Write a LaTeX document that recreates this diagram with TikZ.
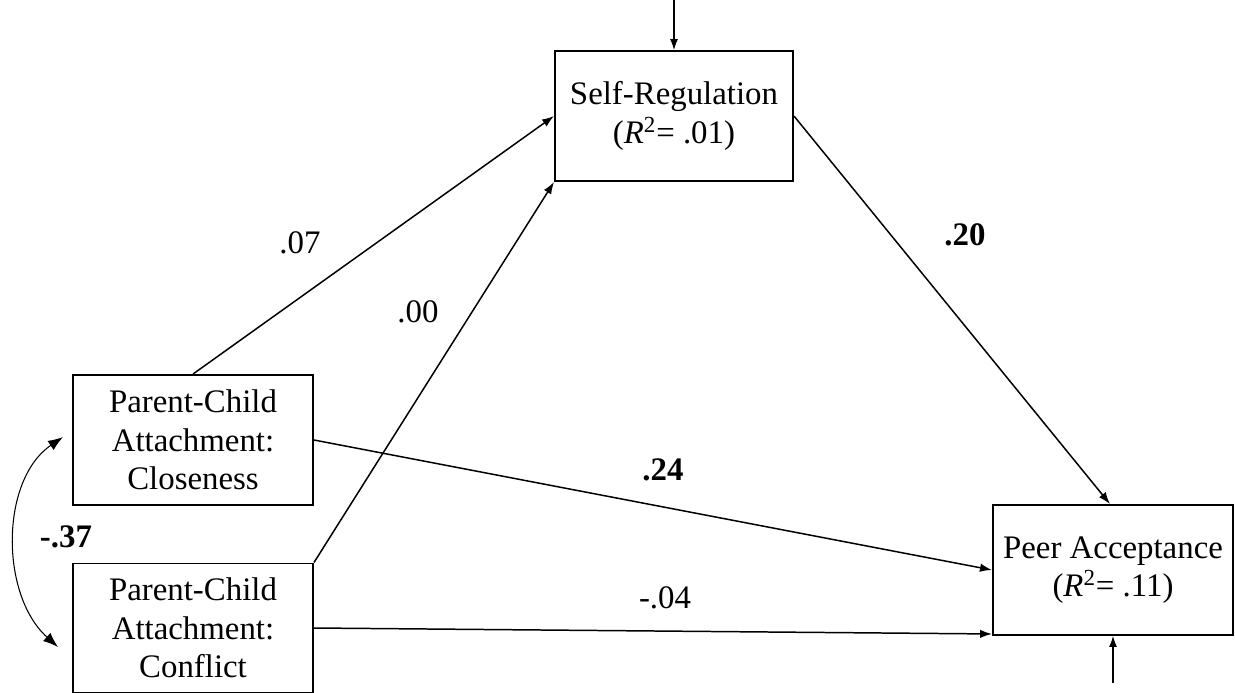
\documentclass[tikz,border=0pt]{standalone}
\usepackage{fontspec}
\setmainfont{Liberation Serif}
\usepackage{tikz}
\usetikzlibrary{arrows.meta}

\tikzset{
  box/.style={draw,line width=1.1pt,align=center,inner sep=0pt,
    font=\fontsize{18.7}{21.8}\selectfont},
  path/.style={line width=0.85pt,-{Latex[length=0.24cm,width=0.17cm]}},
  err/.style={line width=0.6pt,-{Latex[length=0.22cm,width=0.16cm]}},
  coef/.style={font=\fontsize{18.7}{21.8}\selectfont},
  bcoef/.style={font=\fontsize{18.7}{21.8}\selectfont\bfseries}
}

\begin{document}
\begin{tikzpicture}[x=0.02cm,y=-0.02cm]
\useasboundingbox (0,0) rectangle (1235,693);
\node[box,minimum width=238*0.02cm,minimum height=130*0.02cm] (self) at (674,116)
  {Self-Regulation\\(\textit{R}\textsuperscript{2}= .01)};
\node[box,minimum width=240*0.02cm,minimum height=130*0.02cm] (clos) at (193,440)
  {Parent-Child\\Attachment:\\Closeness};
\node[box,minimum width=240*0.02cm,minimum height=129*0.02cm] (conf) at (193,628)
  {Parent-Child\\Attachment:\\Conflict};
\node[box,minimum width=240*0.02cm,minimum height=130*0.02cm] (peer) at (1113,570)
  {Peer Acceptance\\(\textit{R}\textsuperscript{2}= .11)};
\coordinate (e1) at (674,0);
\coordinate (e2) at (1113,683);
\coordinate (c1) at (63,437);
\coordinate (c2) at (58,647);
% paths
\draw[path] (clos.north) -- (self.west);
\draw[path] (conf.north east) -- (self.south west);
\draw[path] (self.east) -- ([xshift=-0.06cm]peer.north);
\draw[path] (clos.east) -- (peer.west);
\draw[path] (conf.east) -- ([yshift=0.04cm]peer.south west);
% residuals
\draw[err] (e1) -- (self.north);
\draw[err] (e2) -- (peer.south);
% covariance
\draw[line width=0.6pt,{Latex[length=0.3cm,width=0.22cm]}-{Latex[length=0.3cm,width=0.22cm]}]
  (c1) .. controls (0,480) and (0,595) .. (c2);
\node[coef] (b07) at (300,243) {.07};
\node[coef] (b00) at (418,312) {.00};
\node[bcoef] (b20) at (965,235) {.20};
\node[bcoef] (b24) at (663,470) {.24};
\node[coef] (b04) at (665,598) {-.04};
\node[bcoef] (b37) at (66,537) {-.37};
\end{tikzpicture}
\end{document}
